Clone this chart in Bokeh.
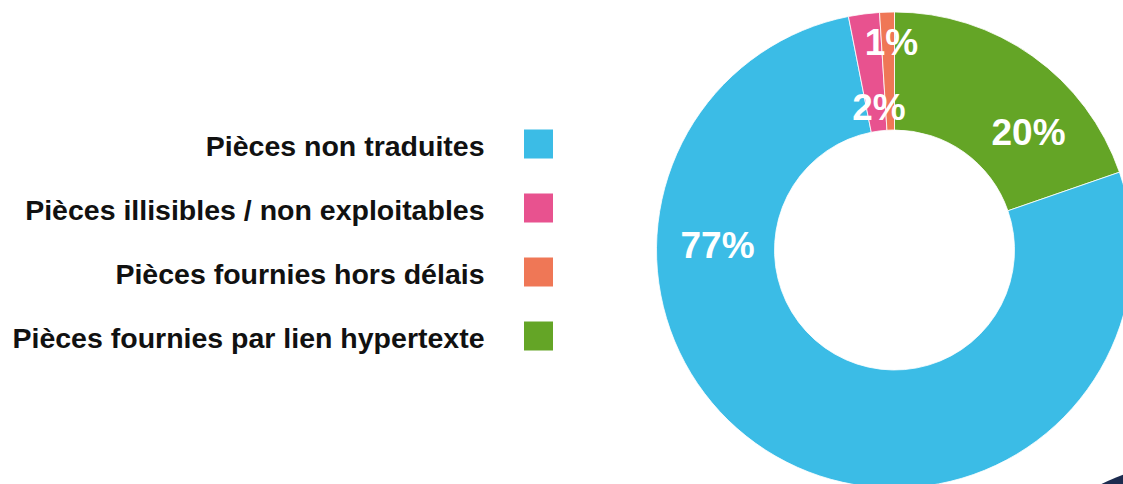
import math
from bokeh.plotting import figure
from bokeh.models import Range1d, ColumnDataSource
from bokeh.core.properties import value
from bokeh.embed import file_html
from bokeh.resources import INLINE

# ---- data ----
categories = [
    "Pièces non traduites",
    "Pièces illisibles / non exploitables",
    "Pièces fournies hors délais",
    "Pièces fournies par lien hypertexte",
]
shares = [77.2, 2.1, 1.0, 19.7]
pct_labels = ["77%", "2%", "1%", "20%"]
colors = ["#3BBCE6", "#E8528F", "#EF7756", "#64A526"]
pie_order = [3, 0, 1, 2]  # clockwise from 12 o'clock

# ---- layout (pixels) ----
W, H = 1123, 484
cx, cy = 894, H - 249.5
r_out, r_in = 238, 120
label_offsets = [(-177, -4.5), (-15.5, -143), (-3, -208), (134, -118)]  # (dx, dy screen) text centres
legend_text_right = 484
legend_first_mid = 145
legend_step = 64
legend_sq_cx = 538
legend_sq_first = 143.5
legend_sq_size = 29

p = figure(width=W, height=H, output_backend="svg", toolbar_location=None,
           x_range=Range1d(0, W), y_range=Range1d(0, H), min_border=0)
p.axis.visible = False
p.grid.visible = False
p.outline_line_color = None
p.background_fill_color = "white"
p.border_fill_color = "white"

# decorative dark shape, bottom-right corner
p.circle(x=[1250], y=[H - 800], radius=350, fill_color="#1C2B4F", line_color=None)

# donut
starts, ends, cols = [], [], []
cum = 0.0
for i in pie_order:
    a0 = cum
    a1 = cum + shares[i] / sum(shares) * 2 * math.pi
    starts.append(math.pi / 2 - a1)
    ends.append(math.pi / 2 - a0)
    cols.append(colors[i])
    cum = a1
src = ColumnDataSource(dict(x=[cx] * 4, y=[cy] * 4, s=starts, e=ends, c=cols))
p.annular_wedge(x="x", y="y", inner_radius=r_in, outer_radius=r_out,
                start_angle="s", end_angle="e", fill_color="c",
                line_color="white", line_width=0.8, source=src)

# percentage labels
lx = [cx + dx for dx, dy in label_offsets]
ly = [cy - dy for dx, dy in label_offsets]
p.text(x=lx, y=ly, text=pct_labels, text_color="white",
       text_font=value("Liberation Sans"), text_font_style="bold",
       text_font_size="37px", text_align="center", text_baseline="middle")

# legend
n = len(categories)
tx = [legend_text_right] * n
ty = [H - (legend_first_mid + legend_step * k) for k in range(n)]
p.text(x=tx, y=ty, text=categories, text_color="#111111",
       text_font=value("Liberation Sans"), text_font_style="bold",
       text_font_size="28.5px", text_align="right", text_baseline="middle")
sx = [legend_sq_cx] * n
sy = [H - (legend_sq_first + legend_step * k) for k in range(n)]
p.rect(x=sx, y=sy, width=legend_sq_size, height=legend_sq_size,
       fill_color=colors, line_color=None)

open("out.html", "w").write(file_html(p, INLINE))
